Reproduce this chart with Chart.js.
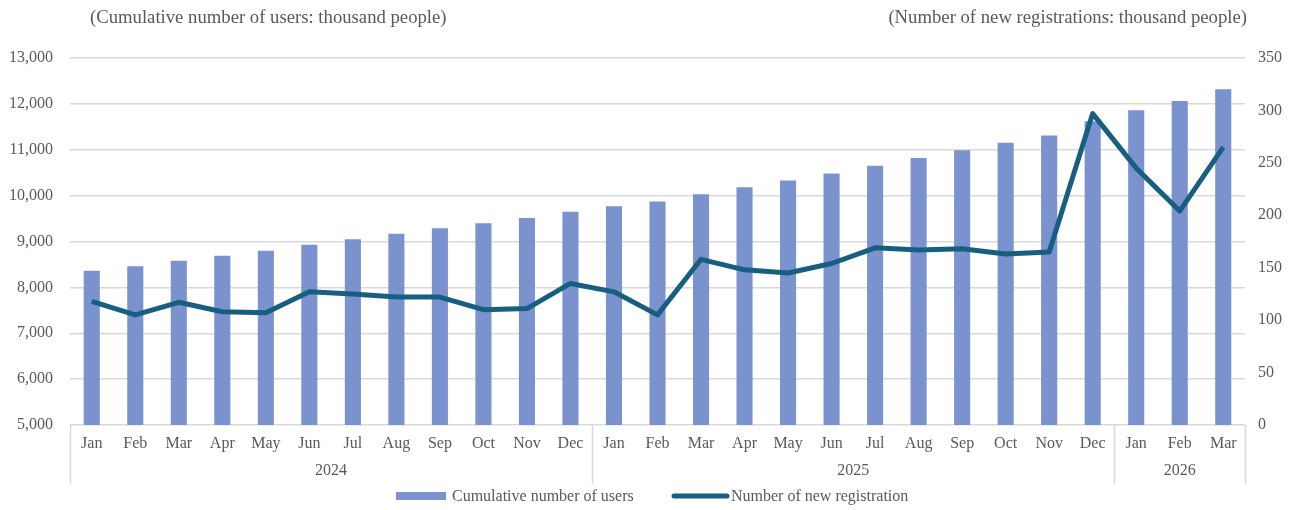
<!DOCTYPE html>
<html>
<head>
<meta charset="utf-8">
<script src="https://cdn.jsdelivr.net/npm/chart.js@4.4.1/dist/chart.umd.min.js"></script>
<style>
  html, body { margin: 0; padding: 0; background: #fff; }
  #wrap { width: 1293px; height: 510px; }
</style>
</head>
<body>
<div id="wrap"><canvas id="chart" width="1293" height="510"></canvas></div>
<script>
// month labels, Jan 2024 .. Mar 2026
const months = ['Jan','Feb','Mar','Apr','May','Jun','Jul','Aug','Sep','Oct','Nov','Dec',
                'Jan','Feb','Mar','Apr','May','Jun','Jul','Aug','Sep','Oct','Nov','Dec',
                'Jan','Feb','Mar'];
const years = [
  { label: '2024', from: 0, to: 11 },
  { label: '2025', from: 12, to: 23 },
  { label: '2026', from: 24, to: 26 }
];

// cumulative users (thousand people)
const cumulativeUsers = [8360, 8460, 8580, 8690, 8800, 8930, 9050, 9170, 9290, 9400, 9510, 9650,
                         9770, 9870, 10030, 10180, 10330, 10480, 10650, 10820, 10990, 11150, 11310, 11620,
                         11860, 12060, 12320];
// new registrations (thousand people)
const newRegistrations = [118, 105, 117, 108, 107, 127, 125, 122, 122, 110, 111, 135,
                          127, 105, 158, 148, 145, 154, 169, 167, 168, 163, 165, 297,
                          245, 204, 265];

const leftTicks = [5000, 13000, 1000];
const rightTicks = [0, 350, 50];

const FONT = "'Liberation Serif', 'Times New Roman', serif";
const TEXT = '#595959';
const GRID = '#d9d9d9';
const BAR_COLOR = '#7a93cf';
const LINE_COLOR = '#175f80';

// draws titles, year groups, separators and legend
const decorations = {
  id: 'decorations',
  afterDraw(chart) {
    const ctx = chart.ctx;
    const x = chart.scales.x;
    const area = chart.chartArea;
    const half = (x.getPixelForValue(1) - x.getPixelForValue(0)) / 2;

    ctx.save();
    ctx.fillStyle = TEXT;
    ctx.font = '18.7px ' + FONT;
    ctx.textBaseline = 'middle';
    ctx.textAlign = 'left';
    ctx.fillText('(Cumulative number of users: thousand people)', 90, 18);
    ctx.textAlign = 'right';
    ctx.fillText('(Number of new registrations: thousand people)', 1247, 18);

    // group separators
    ctx.strokeStyle = GRID;
    ctx.lineWidth = 1.5;
    const edges = [x.getPixelForValue(0) - half];
    years.forEach(y => edges.push(x.getPixelForValue(y.to) + half));
    edges.forEach(px => {
      ctx.beginPath();
      ctx.moveTo(Math.round(px) + 0.5, area.bottom);
      ctx.lineTo(Math.round(px) + 0.5, area.bottom + 59);
      ctx.stroke();
    });

    // year labels
    ctx.font = '16px ' + FONT;
    ctx.textAlign = 'center';
    years.forEach(y => {
      const cx = (x.getPixelForValue(y.from) + x.getPixelForValue(y.to)) / 2;
      ctx.fillText(y.label, cx, area.bottom + 46);
    });

    // legend
    ctx.fillStyle = BAR_COLOR;
    ctx.fillRect(396, 492, 50, 8);
    ctx.fillStyle = TEXT;
    ctx.textAlign = 'left';
    ctx.fillText(chart.data.datasets[1].label, 452, 497);
    ctx.strokeStyle = LINE_COLOR;
    ctx.lineWidth = 5;
    ctx.lineCap = 'round';
    ctx.beginPath();
    ctx.moveTo(674, 496);
    ctx.lineTo(727, 496);
    ctx.stroke();
    ctx.fillText(chart.data.datasets[0].label, 731, 497);
    ctx.restore();
  }
};

new Chart(document.getElementById('chart'), {
  type: 'bar',
  data: {
    labels: months,
    datasets: [
      {
        type: 'line',
        label: 'Number of new registration',
        data: newRegistrations,
        yAxisID: 'y1',
        borderColor: LINE_COLOR,
        borderWidth: 5,
        pointRadius: 0,
        tension: 0,
        borderJoinStyle: 'round',
        order: 0
      },
      {
        type: 'bar',
        label: 'Cumulative number of users',
        data: cumulativeUsers,
        yAxisID: 'y',
        backgroundColor: BAR_COLOR,
        barPercentage: 0.37,
        categoryPercentage: 1,
        order: 1
      }
    ]
  },
  options: {
    responsive: false,
    animation: false,
    layout: { padding: { top: 58, left: 0, right: 0, bottom: 0 } },
    plugins: {
      legend: { display: false },
      tooltip: { enabled: false }
    },
    scales: {
      x: {
        grid: { display: false, drawTicks: false },
        border: { display: false },
        ticks: {
          color: TEXT,
          font: { family: FONT, size: 16 },
          padding: 9,
          maxRotation: 0,
          autoSkip: false
        },
        afterFit(scale) { scale.height = 85; }
      },
      y: {
        position: 'left',
        min: leftTicks[0],
        max: leftTicks[1],
        grid: { color: GRID, lineWidth: 1.5, drawTicks: false },
        border: { display: false },
        ticks: {
          stepSize: leftTicks[2],
          color: TEXT,
          font: { family: FONT, size: 16 },
          padding: 17,
          callback: v => v.toLocaleString('en-US')
        },
        afterFit(scale) { scale.width = 70; }
      },
      y1: {
        position: 'right',
        min: rightTicks[0],
        max: rightTicks[1],
        grid: { display: false, drawTicks: false },
        border: { display: false },
        ticks: {
          stepSize: rightTicks[2],
          color: TEXT,
          font: { family: FONT, size: 16 },
          padding: 13
        },
        afterFit(scale) { scale.width = 48; }
      }
    }
  },
  plugins: [decorations]
});
</script>
</body>
</html>
